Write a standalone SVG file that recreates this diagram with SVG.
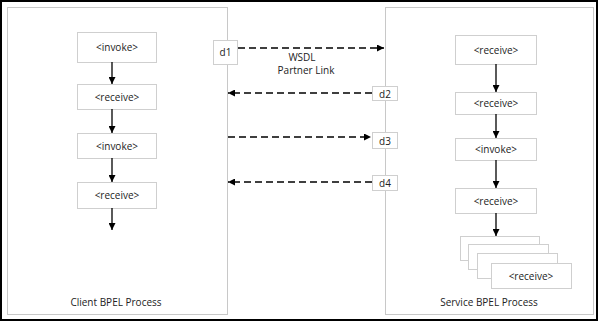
<svg xmlns="http://www.w3.org/2000/svg" width="600" height="325" viewBox="0 0 600 325">
<defs>
<style>
.panel{fill:#fff;stroke:#c8c8c8;stroke-width:1}
.box{fill:#fff;stroke:#cfcfcf;stroke-width:1}
.t{font-family:"Open Sans","Liberation Sans",sans-serif;font-size:10px;fill:#222;text-anchor:middle}
.solid{stroke:#000;stroke-width:1.3;fill:none}
.dash{stroke:#000;stroke-width:1.4;fill:none;stroke-dasharray:7,4}
</style>
<marker id="ah" viewBox="0 0 10 10" refX="10" refY="5" markerWidth="7" markerHeight="7" markerUnits="userSpaceOnUse" orient="auto">
<path d="M0,0 L10,5 L0,10 z" fill="#000"/>
</marker>
</defs>
<rect x="0" y="0" width="600" height="325" fill="#fff"/>
<rect x="1" y="1" width="596" height="319" fill="#fff" stroke="#000" stroke-width="2"/>
<g id="client">
<rect class="panel" x="7.5" y="7.5" width="220" height="307"/>
<text class="t" x="116" y="306">Client BPEL Process</text>
</g>
<g id="service">
<rect class="panel" x="385.5" y="7.5" width="208" height="307"/>
<text class="t" x="489" y="306">Service BPEL Process</text>
</g>
<g id="c-invoke1"><rect class="box" x="77.5" y="32.5" width="79" height="30"/><text class="t" x="117" y="51">&lt;invoke&gt;</text></g>
<g id="c-receive1"><rect class="box" x="77.5" y="84.5" width="79" height="25"/><text class="t" x="117" y="100.5">&lt;receive&gt;</text></g>
<g id="c-invoke2"><rect class="box" x="77.5" y="133.5" width="79" height="25"/><text class="t" x="117" y="149.5">&lt;invoke&gt;</text></g>
<g id="c-receive2"><rect class="box" x="77.5" y="182.5" width="79" height="26"/><text class="t" x="117" y="199">&lt;receive&gt;</text></g>
<g id="s-receive1"><rect class="box" x="455.5" y="35.5" width="81" height="29"/><text class="t" x="496" y="53.5">&lt;receive&gt;</text></g>
<g id="s-receive2"><rect class="box" x="455.5" y="92.5" width="81" height="22"/><text class="t" x="496" y="107">&lt;receive&gt;</text></g>
<g id="s-invoke"><rect class="box" x="455.5" y="138.5" width="81" height="22"/><text class="t" x="496" y="153">&lt;invoke&gt;</text></g>
<g id="s-receive3"><rect class="box" x="455.5" y="188.5" width="81" height="25"/><text class="t" x="496" y="204.5">&lt;receive&gt;</text></g>
<g id="s-stack">
<rect class="box" x="460.5" y="236.5" width="79" height="24"/>
<rect class="box" x="468.5" y="244.5" width="80" height="25"/>
<rect class="box" x="477.5" y="253.5" width="80" height="25"/>
<rect class="box" x="491.5" y="263.5" width="80" height="25"/>
<text class="t" x="531" y="279.5">&lt;receive&gt;</text>
</g>
<g id="d1"><rect class="box" x="213.5" y="40.5" width="24" height="24"/><text class="t" x="225.5" y="56">d1</text></g>
<g id="d2"><rect class="box" x="372.5" y="86.5" width="25" height="14"/><text class="t" x="385" y="97.5">d2</text></g>
<g id="d3"><rect class="box" x="372.5" y="132.5" width="25" height="16"/><text class="t" x="385" y="144.5">d3</text></g>
<g id="d4"><rect class="box" x="372.5" y="175.5" width="25" height="15"/><text class="t" x="385" y="187">d4</text></g>
<g id="labels">
<text class="t" x="302" y="61">WSDL</text>
<text class="t" x="306" y="74">Partner Link</text>
</g>
<g id="connectors">
<line class="solid" x1="112" y1="62" x2="112" y2="84" marker-end="url(#ah)"/>
<line class="solid" x1="112" y1="109" x2="112" y2="133" marker-end="url(#ah)"/>
<line class="solid" x1="112" y1="158" x2="112" y2="182" marker-end="url(#ah)"/>
<line class="solid" x1="112" y1="208" x2="112" y2="230" marker-end="url(#ah)"/>
<line class="solid" x1="496" y1="64" x2="496" y2="92" marker-end="url(#ah)"/>
<line class="solid" x1="496" y1="114" x2="496" y2="138" marker-end="url(#ah)"/>
<line class="solid" x1="496" y1="160" x2="496" y2="188" marker-end="url(#ah)"/>
<line class="solid" x1="496" y1="213" x2="496" y2="236" marker-end="url(#ah)"/>
<line class="dash" x1="238" y1="48" x2="384" y2="48" marker-end="url(#ah)"/>
<line class="dash" x1="372" y1="93" x2="228" y2="93" marker-end="url(#ah)"/>
<line class="dash" x1="228" y1="137" x2="371" y2="137" marker-end="url(#ah)"/>
<line class="dash" x1="372" y1="182" x2="228" y2="182" marker-end="url(#ah)"/>
</g>
</svg>
